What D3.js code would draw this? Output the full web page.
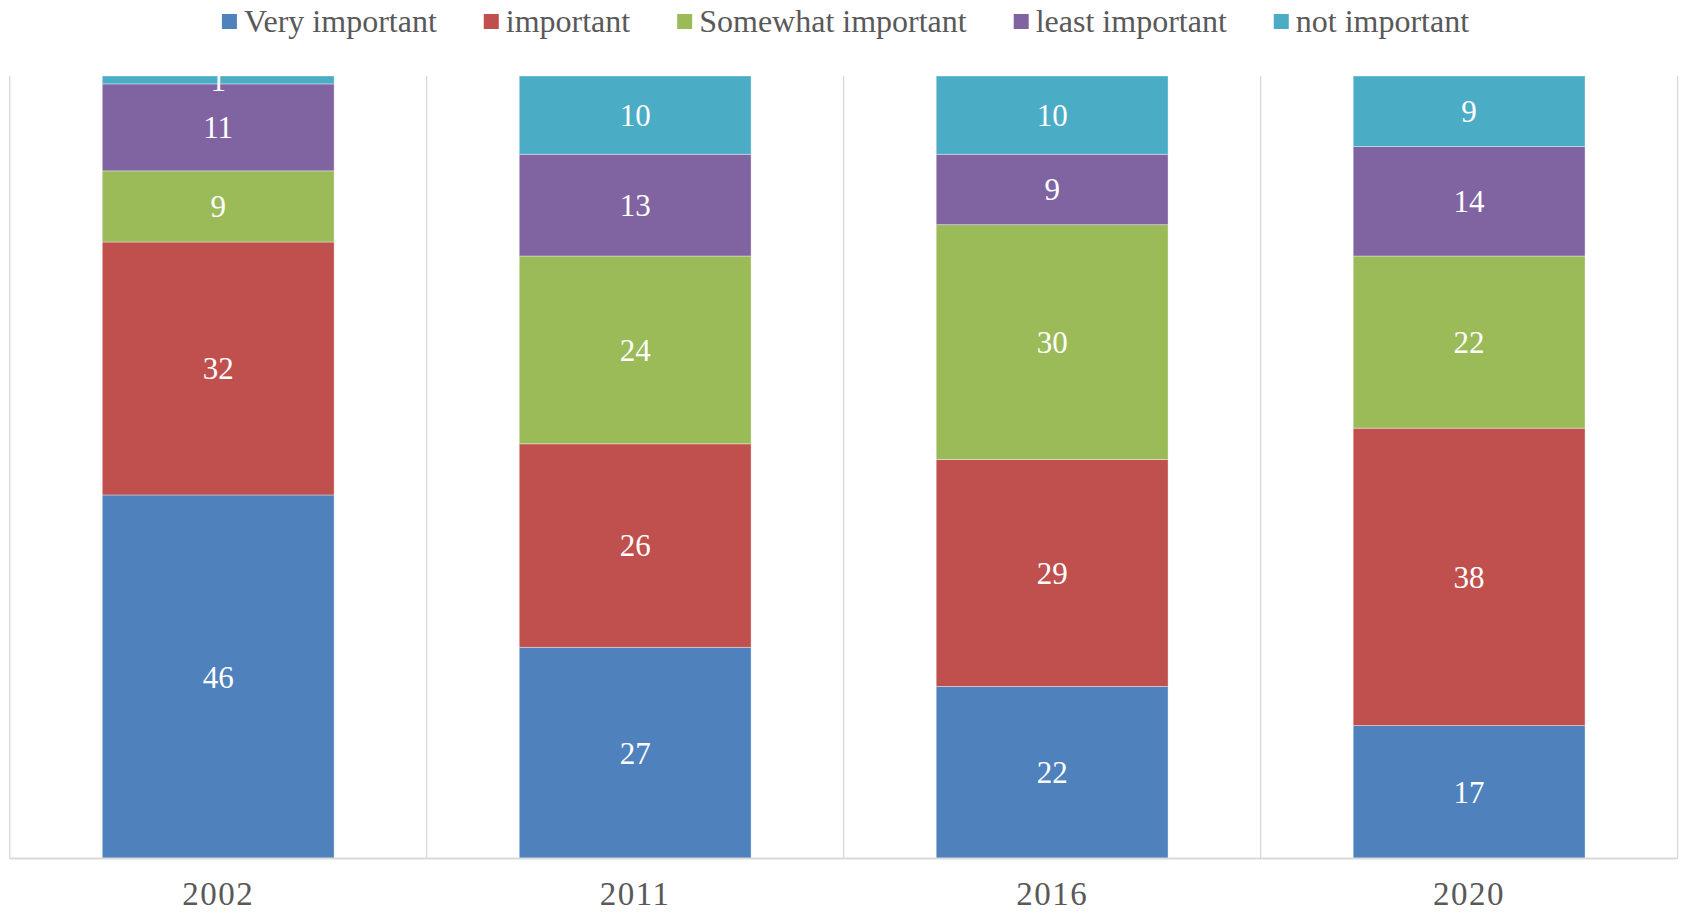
<!DOCTYPE html>
<html>
<head>
<meta charset="utf-8">
<script src="https://cdn.jsdelivr.net/npm/d3@7/dist/d3.min.js"></script>
<style>
  html, body { margin: 0; padding: 0; background: #fff; }
  svg { display: block; }
</style>
</head>
<body>
<svg id="chart" width="1683" height="913"></svg>
<script>
// Survey years and the share of answers in each importance class
const years = ["2002", "2011", "2016", "2020"];
const seriesNames = ["Very important", "important", "Somewhat important", "least important", "not important"];
const veryImportant = [46, 27, 22, 17];
const important = [32, 26, 29, 38];
const somewhatImportant = [9, 24, 30, 22];
const leastImportant = [11, 13, 9, 14];
const notImportant = [1, 10, 10, 9];
const seriesColors = ["#4F81BD", "#C0504D", "#9BBB59", "#8064A2", "#4BACC6"];

const seriesValues = [veryImportant, important, somewhatImportant, leastImportant, notImportant];
const rows = years.map((yr, i) => {
  const row = { year: yr };
  seriesNames.forEach((s, k) => { row[s] = seriesValues[k][i]; });
  return row;
});

const svg = d3.select("#chart");
const W = 1683, H = 913;
const plot = { left: 9.7, right: 1677.6, top: 76, bottom: 858.6 };
const font = "'Liberation Serif', 'Times New Roman', serif";

const x = d3.scaleBand()
  .domain(years)
  .range([plot.left, plot.right])
  .paddingInner(0.444)
  .paddingOuter(0.222);

const y = d3.scaleLinear().domain([0, 1]).range([plot.bottom, plot.top]);

// 100% stacked layout
const stack = d3.stack().keys(seriesNames).offset(d3.stackOffsetExpand);
const stacked = stack(rows);

// Category separators
const step = x.step();
const sepX = d3.range(years.length + 1).map(i => plot.left + i * step);
svg.append("g").selectAll("line").data(sepX).join("line")
  .attr("x1", d => d).attr("x2", d => d)
  .attr("y1", plot.top).attr("y2", plot.bottom)
  .attr("stroke", "#d9d9d9").attr("stroke-width", 1.3);

// Stacked bars
const layers = svg.append("g").selectAll("g").data(stacked).join("g")
  .attr("fill", (d, i) => seriesColors[i]);

layers.selectAll("rect").data(d => d).join("rect")
  .attr("x", d => x(d.data.year))
  .attr("width", x.bandwidth())
  .attr("y", d => y(d[1]))
  .attr("height", d => y(d[0]) - y(d[1]))
  .attr("stroke", "rgba(255,255,255,0.45)")
  .attr("stroke-width", 0.8);

// Value labels
layers.each(function(layer) {
  d3.select(this).selectAll("text").data(layer).join("text")
    .attr("x", d => x(d.data.year) + x.bandwidth() / 2)
    .attr("y", d => (y(d[0]) + y(d[1])) / 2)
    .attr("dy", "0.35em")
    .attr("text-anchor", "middle")
    .attr("fill", "#fff")
    .attr("font-family", font)
    .attr("font-size", 31)
    .text(d => d.data[layer.key]);
});

// Bottom axis
const xAxis = d3.axisBottom(x).tickSize(0).tickPadding(0);
const axisG = svg.append("g").attr("transform", `translate(0,${plot.bottom})`).call(xAxis);
axisG.select(".domain").attr("stroke", "#d9d9d9").attr("stroke-width", 2)
  .attr("d", `M${plot.left},0H${plot.right}`);
axisG.selectAll(".tick text")
  .attr("y", 46)
  .attr("dy", 0)
  .attr("fill", "#595959")
  .attr("font-family", font)
  .attr("font-size", 33)
  .attr("letter-spacing", 1.5);

// Legend
const legend = svg.append("g");
const items = legend.selectAll("g").data(seriesNames).join("g");
items.append("rect")
  .attr("width", 15).attr("height", 15)
  .attr("y", 14)
  .attr("fill", (d, i) => seriesColors[i]);
items.append("text")
  .attr("x", 22).attr("y", 32)
  .attr("fill", "#595959")
  .attr("font-family", font)
  .attr("font-size", 32)
  .text(d => d);

let offset = 0;
const gap = 47;
items.each(function() {
  const g = d3.select(this);
  const w = 22 + g.select("text").node().getComputedTextLength();
  g.attr("transform", `translate(${offset},0)`);
  offset += w + gap;
});
const total = offset - gap;
legend.attr("transform", `translate(${(W - total) / 2 + 4},0)`);
</script>
</body>
</html>
